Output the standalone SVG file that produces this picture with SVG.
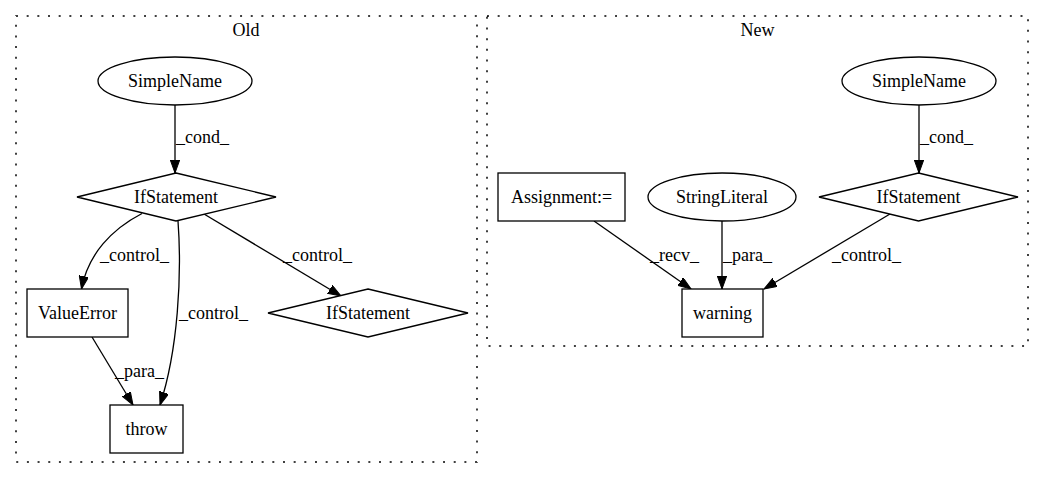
<svg xmlns="http://www.w3.org/2000/svg" width="1044" height="480" viewBox="0 0 1044 480">
  <style>
    text { font-family: "Liberation Serif", "Times New Roman", serif; font-size: 18px; fill: #000; }
    .mid { text-anchor: middle; }
    .cluster { fill: none; stroke: #000; stroke-width: 1.5; stroke-dasharray: 2,8.67; }
    .shape { fill: #fff; stroke: #000; stroke-width: 1.3; }
    .edge { fill: none; stroke: #000; stroke-width: 1.3; marker-end: url(#arrow); }
  </style>
  <defs>
    <marker id="arrow" markerUnits="userSpaceOnUse" markerWidth="14" markerHeight="10" refX="13" refY="4.7" orient="auto">
      <path d="M0,0 L13,4.7 L0,9.4 z" fill="#000" stroke="#000" stroke-width="1"/>
    </marker>
  </defs>
  <rect width="1044" height="480" fill="#fff"/>

  <!-- clusters -->
  <g id="cluster-old">
    <rect class="cluster" x="16" y="16" width="461" height="446"/>
    <text class="mid" x="246" y="36">Old</text>
  </g>
  <g id="cluster-new">
    <rect class="cluster" x="487" y="16" width="541" height="330"/>
    <text class="mid" x="757.5" y="36">New</text>
  </g>

  <!-- connectors -->
  <g id="edges">
    <path class="edge" d="M175,105 L175,173"/>
    <text x="176" y="143">_cond_</text>
    <path class="edge" d="M142,213.5 C112,229 88,254 81.5,289"/>
    <text x="100" y="261">_control_</text>
    <path class="edge" d="M178,221 C182,275 178,350 160,405"/>
    <text x="179" y="319">_control_</text>
    <path class="edge" d="M204,214 L341,296"/>
    <text x="283" y="261">_control_</text>
    <path class="edge" d="M92,337 L133,405"/>
    <text x="115" y="377">_para_</text>

    <path class="edge" d="M919,105 L919,173"/>
    <text x="920" y="143">_cond_</text>
    <path class="edge" d="M594,221 L691,289"/>
    <text x="650" y="261">_recv_</text>
    <path class="edge" d="M722,221 L722,289"/>
    <text x="723" y="261">_para_</text>
    <path class="edge" d="M890,214 L764,289"/>
    <text x="832" y="261">_control_</text>
  </g>

  <!-- Old nodes -->
  <g id="old-simplename">
    <ellipse class="shape" cx="175" cy="81" rx="77" ry="24"/>
    <text class="mid" x="175" y="87">SimpleName</text>
  </g>
  <g id="old-ifstatement">
    <polygon class="shape" points="176,173 276,197 176,221 77,197"/>
    <text class="mid" x="176" y="203">IfStatement</text>
  </g>
  <g id="old-valueerror">
    <rect class="shape" x="27" y="289" width="101" height="48"/>
    <text class="mid" x="77.5" y="319">ValueError</text>
  </g>
  <g id="old-ifstatement2">
    <polygon class="shape" points="368,289 468,313 368,337 268,313"/>
    <text class="mid" x="368" y="319">IfStatement</text>
  </g>
  <g id="old-throw">
    <rect class="shape" x="110" y="405" width="73" height="48"/>
    <text class="mid" x="146.5" y="435">throw</text>
  </g>

  <!-- New nodes -->
  <g id="new-assignment">
    <rect class="shape" x="498" y="173" width="127" height="48"/>
    <text class="mid" x="561.5" y="203">Assignment:=</text>
  </g>
  <g id="new-stringliteral">
    <ellipse class="shape" cx="722" cy="197" rx="74" ry="24"/>
    <text class="mid" x="722" y="203">StringLiteral</text>
  </g>
  <g id="new-simplename">
    <ellipse class="shape" cx="919" cy="81" rx="77" ry="24"/>
    <text class="mid" x="919" y="87">SimpleName</text>
  </g>
  <g id="new-ifstatement">
    <polygon class="shape" points="918.5,173 1018,197 918.5,221 819,197"/>
    <text class="mid" x="918.5" y="203">IfStatement</text>
  </g>
  <g id="new-warning">
    <rect class="shape" x="682" y="289" width="81" height="48"/>
    <text class="mid" x="722.5" y="319">warning</text>
  </g>
</svg>
